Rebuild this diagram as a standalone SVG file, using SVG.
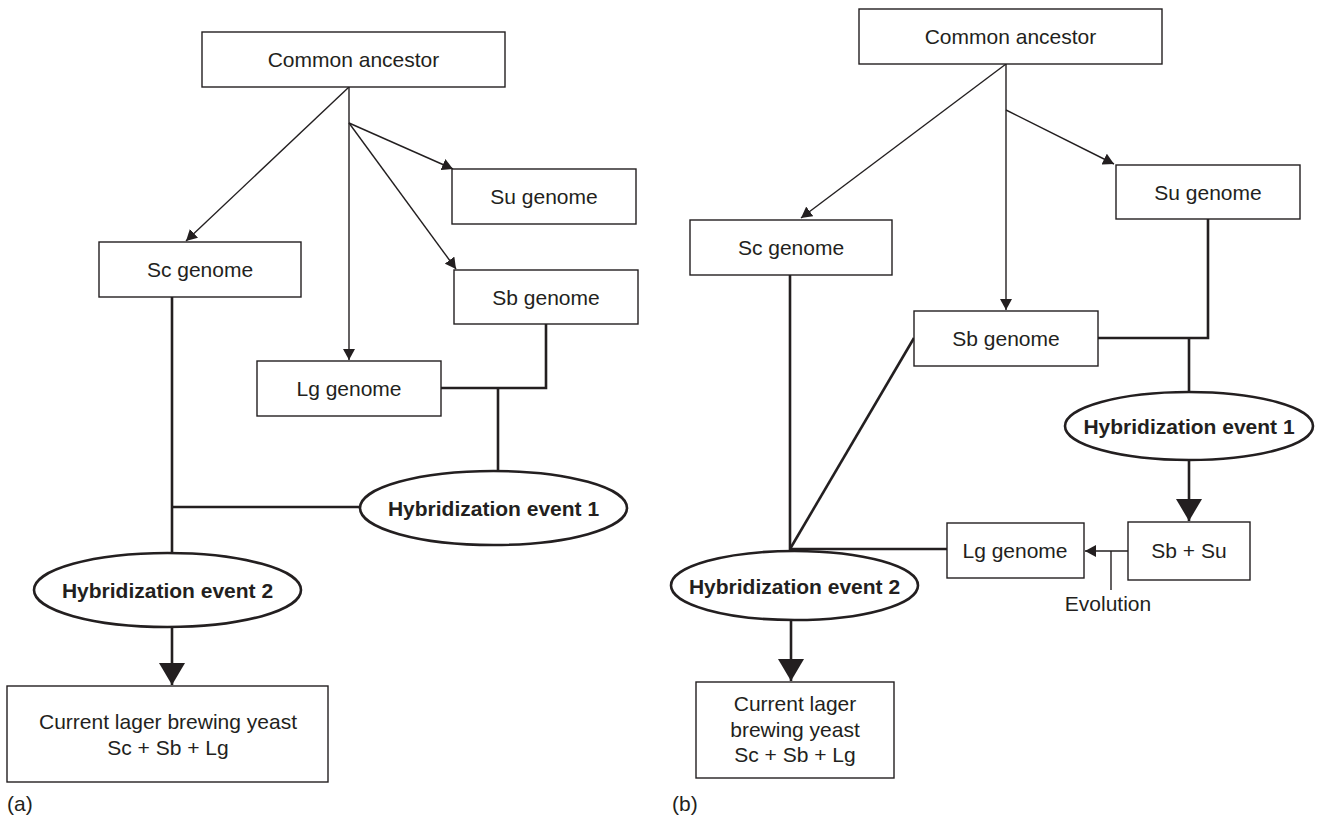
<svg xmlns="http://www.w3.org/2000/svg" width="1321" height="818" viewBox="0 0 1321 818">
  <style>
    .box { fill: #fff; stroke: #231f20; stroke-width: 1.4; }
    .oval { fill: #fff; stroke: #231f20; stroke-width: 2.6; }
    .thin { fill: none; stroke: #231f20; stroke-width: 1.4; }
    .thick { fill: none; stroke: #231f20; stroke-width: 2.6; }
    text { font-family: "Liberation Sans", Arial, sans-serif; font-size: 21px; fill: #231f20; text-anchor: middle; }
    .bold { font-weight: bold; }
    .tag { text-anchor: start; }
  </style>
  <defs>
    <marker id="arrow-small" markerUnits="userSpaceOnUse" markerWidth="12" markerHeight="12" refX="11" refY="6" orient="auto">
      <path d="M0,0 L11,6 L0,12 Z" fill="#231f20"/>
    </marker>
    <marker id="arrow-big" markerUnits="userSpaceOnUse" markerWidth="24" markerHeight="26" refX="22" refY="13" orient="auto">
      <path d="M0,0 L22,13 L0,26 Z" fill="#231f20"/>
    </marker>
  </defs>

  <!-- connectors -->
  <g id="connectors">
    <!-- panel a -->
    <line class="thin" x1="349" y1="87" x2="186" y2="241" marker-end="url(#arrow-small)"/>
    <line class="thin" x1="349" y1="87" x2="349" y2="360" marker-end="url(#arrow-small)"/>
    <line class="thin" x1="349" y1="123" x2="453" y2="169" marker-end="url(#arrow-small)"/>
    <line class="thin" x1="349" y1="123" x2="456" y2="269" marker-end="url(#arrow-small)"/>
    <polyline class="thick" points="546,324 546,388 441,388"/>
    <line class="thick" x1="498" y1="388" x2="498" y2="471"/>
    <line class="thick" x1="172" y1="297" x2="172" y2="553"/>
    <line class="thick" x1="172" y1="507" x2="360" y2="507"/>
    <line class="thick" x1="172" y1="627" x2="172" y2="685" marker-end="url(#arrow-big)"/>

    <!-- panel b -->
    <line class="thin" x1="1006" y1="64" x2="801" y2="218" marker-end="url(#arrow-small)"/>
    <line class="thin" x1="1006" y1="64" x2="1006" y2="310" marker-end="url(#arrow-small)"/>
    <line class="thin" x1="1006" y1="110" x2="1114" y2="164" marker-end="url(#arrow-small)"/>
    <polyline class="thick" points="1208,219 1208,338 1098,338"/>
    <line class="thick" x1="1189" y1="338" x2="1189" y2="392"/>
    <line class="thick" x1="1189" y1="460" x2="1189" y2="521" marker-end="url(#arrow-big)"/>
    <line class="thick" x1="790" y1="275" x2="790" y2="551"/>
    <line class="thick" x1="914" y1="338" x2="790" y2="549"/>
    <line class="thick" x1="790" y1="549" x2="947" y2="549"/>
    <line class="thin" x1="1128" y1="551" x2="1085" y2="551" marker-end="url(#arrow-small)"/>
    <line class="thin" x1="1111" y1="551" x2="1111" y2="590"/>
    <line class="thick" x1="791" y1="620" x2="791" y2="681" marker-end="url(#arrow-big)"/>
  </g>

  <!-- panel a nodes -->
  <g id="a-ancestor"><rect class="box" x="202" y="32" width="303" height="55"/><text x="353.5" y="67">Common ancestor</text></g>
  <g id="a-sc"><rect class="box" x="99" y="242" width="202" height="55"/><text x="200" y="277">Sc genome</text></g>
  <g id="a-su"><rect class="box" x="452" y="169" width="184" height="55"/><text x="544" y="204">Su genome</text></g>
  <g id="a-sb"><rect class="box" x="454" y="270" width="184" height="54"/><text x="546" y="305">Sb genome</text></g>
  <g id="a-lg"><rect class="box" x="257" y="361" width="184" height="55"/><text x="349" y="396">Lg genome</text></g>
  <g id="a-hyb1"><ellipse class="oval" cx="493.5" cy="508" rx="133.5" ry="37"/><text class="bold" x="493.5" y="516">Hybridization event 1</text></g>
  <g id="a-hyb2"><ellipse class="oval" cx="167.5" cy="590" rx="133.5" ry="37"/><text class="bold" x="167.5" y="598">Hybridization event 2</text></g>
  <g id="a-lager"><rect class="box" x="7" y="686" width="321" height="96"/><text x="168" y="729">Current lager brewing yeast</text><text x="168" y="755">Sc + Sb + Lg</text></g>
  <text class="tag" x="7" y="811">(a)</text>

  <!-- panel b nodes -->
  <g id="b-ancestor"><rect class="box" x="859" y="9" width="303" height="55"/><text x="1010.5" y="44">Common ancestor</text></g>
  <g id="b-sc"><rect class="box" x="690" y="220" width="202" height="55"/><text x="791" y="255">Sc genome</text></g>
  <g id="b-su"><rect class="box" x="1116" y="165" width="184" height="54"/><text x="1208" y="200">Su genome</text></g>
  <g id="b-sb"><rect class="box" x="914" y="311" width="184" height="55"/><text x="1006" y="346">Sb genome</text></g>
  <g id="b-hyb1"><ellipse class="oval" cx="1189" cy="426" rx="124" ry="34"/><text class="bold" x="1189" y="434">Hybridization event 1</text></g>
  <g id="b-sbsu"><rect class="box" x="1128" y="522" width="122" height="58"/><text x="1189" y="558">Sb + Su</text></g>
  <g id="b-lg"><rect class="box" x="947" y="523" width="137" height="55"/><text x="1015" y="558">Lg genome</text></g>
  <text x="1108" y="611">Evolution</text>
  <g id="b-hyb2"><ellipse class="oval" cx="794.5" cy="585.5" rx="123.5" ry="34.5"/><text class="bold" x="794.5" y="594">Hybridization event 2</text></g>
  <g id="b-lager"><rect class="box" x="696" y="682" width="198" height="96"/><text x="795" y="711">Current lager</text><text x="795" y="737">brewing yeast</text><text x="795" y="762">Sc + Sb + Lg</text></g>
  <text class="tag" x="672" y="811">(b)</text>
</svg>
